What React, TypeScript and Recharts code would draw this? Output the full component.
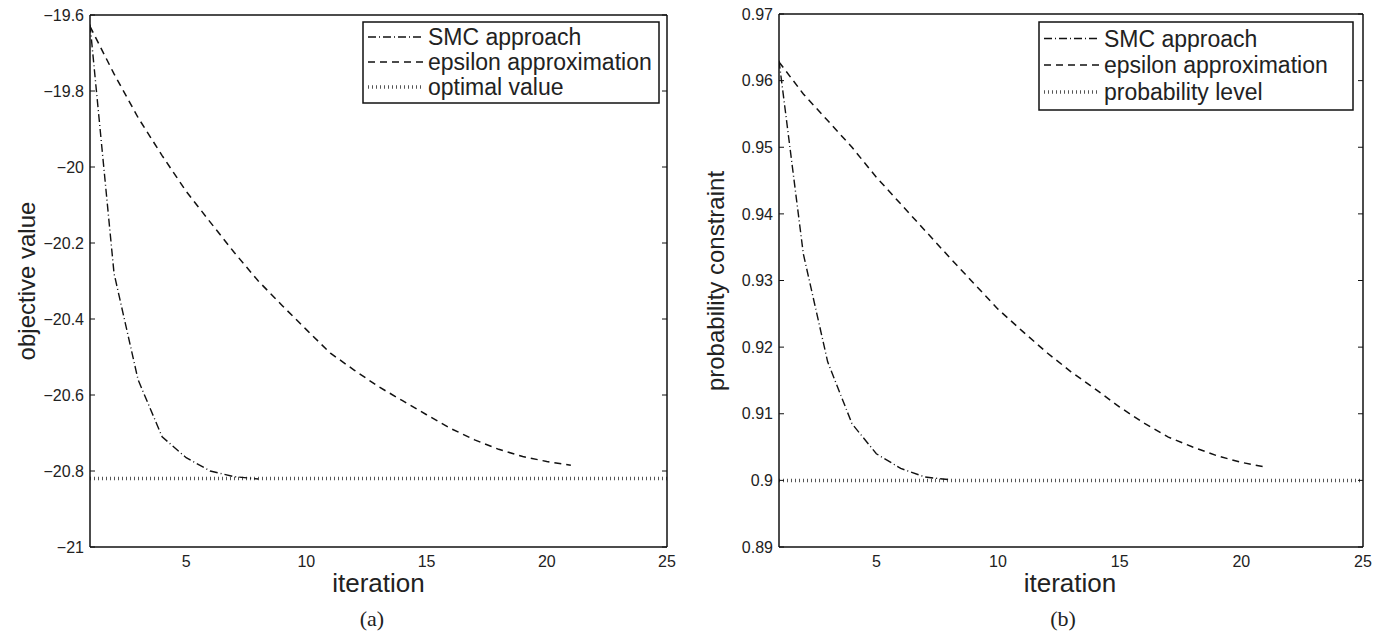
import React from 'react';
import { LineChart, Line, XAxis, YAxis } from 'recharts';

// iteration index shared by both panels
const iterations = [1, 2, 3, 4, 5, 6, 7, 8, 9, 10, 11, 12, 13, 14, 15, 16, 17, 18, 19, 20, 21, 22, 23, 24, 25];

// (a) objective value
const smcObjective = [-19.625, -20.28, -20.56, -20.71, -20.765, -20.8, -20.815, -20.821];
const epsObjective = [
  -19.63, -19.755, -19.87, -19.97, -20.064, -20.145, -20.225, -20.3, -20.365, -20.428, -20.49,
  -20.535, -20.578, -20.615, -20.652, -20.688, -20.718, -20.743, -20.762, -20.775, -20.785,
];
const optimalValue = -20.82;

// (b) probability constraint
const smcProb = [0.963, 0.934, 0.9178, 0.9085, 0.904, 0.9018, 0.9005, 0.9001];
const epsProb = [
  0.9628, 0.958, 0.954, 0.95, 0.9455, 0.9415, 0.9375, 0.9335, 0.9296, 0.9257, 0.9224, 0.9192,
  0.9163, 0.9137, 0.911, 0.9086, 0.9065, 0.905, 0.9037, 0.9027, 0.902,
];
const probLevel = 0.9;

const xTicks = [5, 10, 15, 20, 25];
const objectiveTicks = [-21, -20.8, -20.6, -20.4, -20.2, -20, -19.8, -19.6];
const probTicks = [0.89, 0.9, 0.91, 0.92, 0.93, 0.94, 0.95, 0.96, 0.97];

const SANS = '"Liberation Sans", Arial, Helvetica, sans-serif';
const SERIF = '"Liberation Serif", "Times New Roman", serif';
const INK = '#111';

const DASH_DOT = '8 3 1 3';
const DASHED = '7 5';
const DOTTED = '1 3';

const rows = (ys: number[]) => ys.map((y, i) => ({ x: iterations[i], y }));
const flat = (v: number) => iterations.map((x) => ({ x, y: v }));
const fmt = (v: number) => (v < 0 ? `\u2212${Math.abs(v)}` : `${v}`);
// mirrored axes only carry the inward tick marks, no labels
const noLabel = () => <g />;

type PanelProps = {
  left: number;
  width: number;
  plotLeft: number;
  plotTop: number;
  plotRight: number;
  plotBottom: number;
  domain: [number, number];
  ticks: number[];
  smc: number[];
  eps: number[];
  level: number;
};

function Panel({ left, width, plotLeft, plotTop, plotRight, plotBottom, domain, ticks, smc, eps, level }: PanelProps) {
  const axisLine = { stroke: INK, strokeWidth: 1.5 };
  const tickStyle = { fill: '#222', fontSize: 16, fontFamily: SANS };
  const markLine = { stroke: INK, strokeWidth: 1 };
  return (
    <div style={{ position: 'absolute', left, top: 0 }}>
      <LineChart width={width} height={632} margin={{ top: plotTop, right: width - plotRight, bottom: 0, left: 0 }}>
        <XAxis xAxisId="b" type="number" dataKey="x" domain={[1, 25]} ticks={xTicks} allowDataOverflow
          height={632 - plotBottom} tickLine={false} tickSize={0} tickMargin={9} tick={tickStyle} axisLine={axisLine} />
        <XAxis xAxisId="bm" type="number" domain={[1, 25]} ticks={xTicks} allowDataOverflow mirror
          tick={noLabel} tickSize={5} tickLine={markLine} axisLine={false} />
        <XAxis xAxisId="t" orientation="top" type="number" domain={[1, 25]} ticks={xTicks} allowDataOverflow mirror
          tick={noLabel} tickSize={5} tickLine={markLine} axisLine={axisLine} />
        <YAxis yAxisId="l" type="number" domain={domain} ticks={ticks} allowDataOverflow width={plotLeft}
          tickLine={false} tickSize={0} tickMargin={6} tickFormatter={fmt} tick={tickStyle} axisLine={axisLine} />
        <YAxis yAxisId="lm" type="number" domain={domain} ticks={ticks} allowDataOverflow mirror
          tick={noLabel} tickSize={5} tickLine={markLine} axisLine={false} />
        <YAxis yAxisId="r" orientation="right" type="number" domain={domain} ticks={ticks} allowDataOverflow mirror
          tick={noLabel} tickSize={5} tickLine={markLine} axisLine={axisLine} />
        <Line xAxisId="b" yAxisId="l" data={flat(level)} dataKey="y" type="linear" dot={false}
          stroke="#555" strokeWidth={3.5} strokeDasharray={DOTTED} isAnimationActive={false} />
        <Line xAxisId="b" yAxisId="l" data={rows(eps)} dataKey="y" type="linear" dot={false}
          stroke={INK} strokeWidth={1.5} strokeDasharray={DASHED} isAnimationActive={false} />
        <Line xAxisId="b" yAxisId="l" data={rows(smc)} dataKey="y" type="linear" dot={false}
          stroke={INK} strokeWidth={1.4} strokeDasharray={DASH_DOT} isAnimationActive={false} />
      </LineChart>
    </div>
  );
}

type LegendProps = { left: number; top: number; width: number; height: number; baselines: number[]; labels: string[] };

function LegendBox({ left, top, width, height, baselines, labels }: LegendProps) {
  const styles = [
    { dash: DASH_DOT, w: 1.4, c: INK },
    { dash: DASHED, w: 1.5, c: INK },
    { dash: DOTTED, w: 3.5, c: '#555' },
  ];
  return (
    <g>
      <rect x={left} y={top} width={width} height={height} fill="#fff" stroke={INK} strokeWidth={1.5} />
      {labels.map((lab, i) => (
        <g key={lab}>
          <line x1={left + 5} x2={left + 61} y1={baselines[i] - 8} y2={baselines[i] - 8}
            stroke={styles[i].c} strokeWidth={styles[i].w} strokeDasharray={styles[i].dash} />
          <text x={left + 65} y={baselines[i]} fontFamily={SANS} fontSize={23} fill="#222">{lab}</text>
        </g>
      ))}
    </g>
  );
}

export default function App() {
  return (
    <div style={{ position: 'relative', width: 1385, height: 632, background: '#fff' }}>
      <style>{'body{margin:0}'}</style>
      <Panel left={0} width={690} plotLeft={90} plotTop={15} plotRight={667} plotBottom={547}
        domain={[-21, -19.6]} ticks={objectiveTicks} smc={smcObjective} eps={epsObjective} level={optimalValue} />
      <Panel left={690} width={695} plotLeft={89} plotTop={14} plotRight={673} plotBottom={547}
        domain={[0.89, 0.97]} ticks={probTicks} smc={smcProb} eps={epsProb} level={probLevel} />
      <svg width={1385} height={632} style={{ position: 'absolute', left: 0, top: 0, pointerEvents: 'none' }}>
        <LegendBox left={363} top={22} width={296} height={81} baselines={[45, 70, 95]}
          labels={['SMC approach', 'epsilon approximation', 'optimal value']} />
        <LegendBox left={1039} top={22} width={314} height={88} baselines={[46.5, 73, 100]}
          labels={['SMC approach', 'epsilon approximation', 'probability level']} />
        <text x={35} y={281} transform="rotate(-90 35 281)" textAnchor="middle" fontFamily={SANS} fontSize={24} fill="#222">objective value</text>
        <text x={724} y={281} transform="rotate(-90 724 281)" textAnchor="middle" fontFamily={SANS} fontSize={24} fill="#222">probability constraint</text>
        <text x={378.5} y={591.5} textAnchor="middle" fontFamily={SANS} fontSize={26} fill="#222">iteration</text>
        <text x={1070} y={591.5} textAnchor="middle" fontFamily={SANS} fontSize={26} fill="#222">iteration</text>
        <text x={372} y={626} textAnchor="middle" fontFamily={SERIF} fontSize={22} fill="#222">(a)</text>
        <text x={1063} y={626} textAnchor="middle" fontFamily={SERIF} fontSize={22} fill="#222">(b)</text>
      </svg>
    </div>
  );
}
